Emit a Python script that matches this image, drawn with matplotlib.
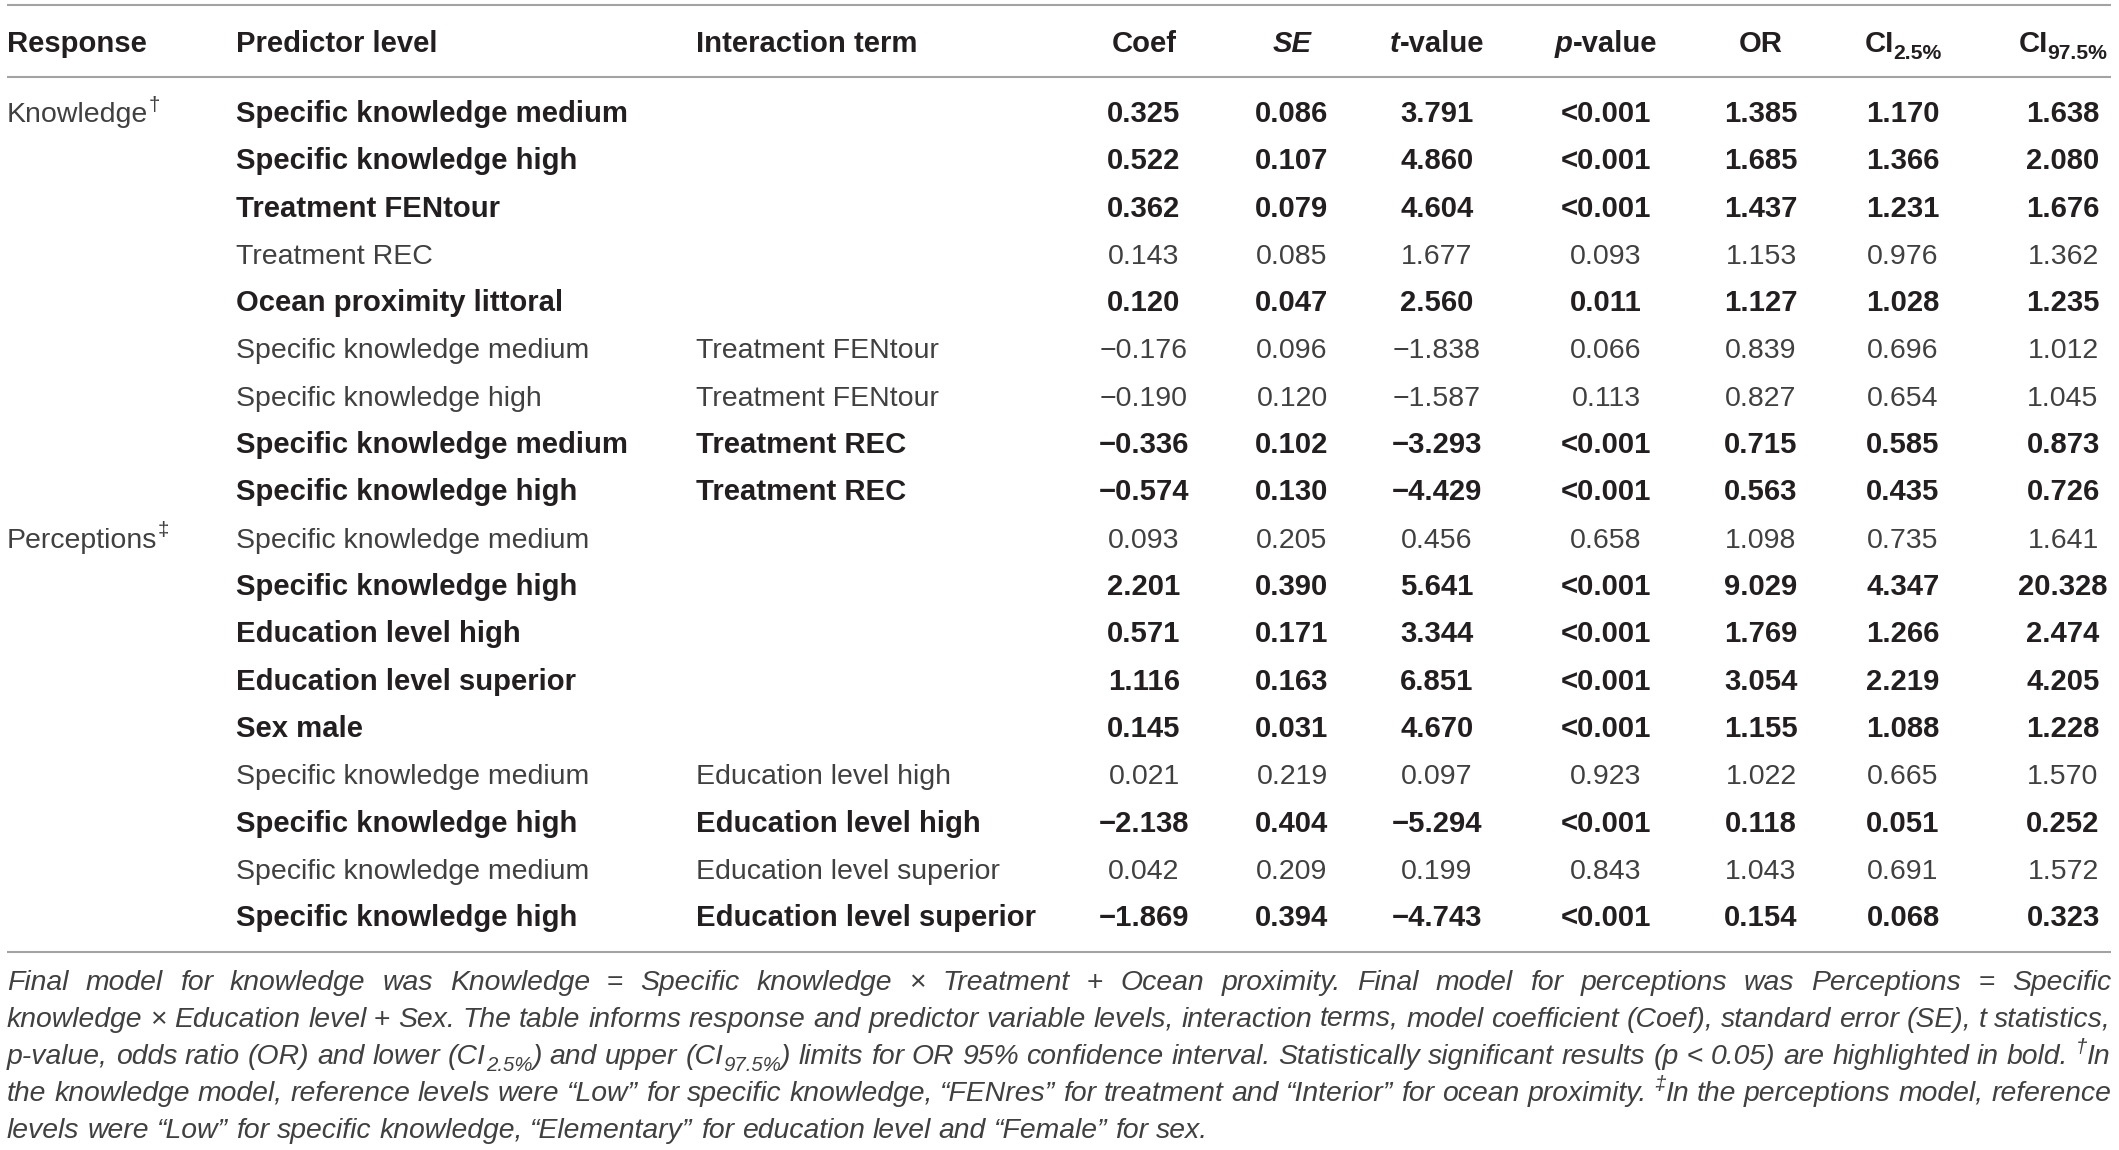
import re
import matplotlib.pyplot as plt

FONT = "Liberation Sans"
W, H = 2119, 1150

# table content
header = ["Response", "Predictor level", "Interaction term", "Coef", "*SE*", "*t*-value",
          "*p*-value", "OR", "CI_{2.5%}", "CI_{97.5%}"]

response = {0: "Knowledge^{†}", 9: "Perceptions^{‡}"}

predictor = ["Specific knowledge medium", "Specific knowledge high", "Treatment FENtour",
             "Treatment REC", "Ocean proximity littoral", "Specific knowledge medium",
             "Specific knowledge high", "Specific knowledge medium", "Specific knowledge high",
             "Specific knowledge medium", "Specific knowledge high", "Education level high",
             "Education level superior", "Sex male", "Specific knowledge medium",
             "Specific knowledge high", "Specific knowledge medium", "Specific knowledge high"]

interaction = ["", "", "", "", "", "Treatment FENtour", "Treatment FENtour", "Treatment REC",
               "Treatment REC", "", "", "", "", "", "Education level high", "Education level high",
               "Education level superior", "Education level superior"]

coef = [0.325, 0.522, 0.362, 0.143, 0.120, -0.176, -0.190, -0.336, -0.574,
        0.093, 2.201, 0.571, 1.116, 0.145, 0.021, -2.138, 0.042, -1.869]
se = [0.086, 0.107, 0.079, 0.085, 0.047, 0.096, 0.120, 0.102, 0.130,
      0.205, 0.390, 0.171, 0.163, 0.031, 0.219, 0.404, 0.209, 0.394]
tval = [3.791, 4.860, 4.604, 1.677, 2.560, -1.838, -1.587, -3.293, -4.429,
        0.456, 5.641, 3.344, 6.851, 4.670, 0.097, -5.294, 0.199, -4.743]
pval = ["<0.001", "<0.001", "<0.001", "0.093", "0.011", "0.066", "0.113", "<0.001", "<0.001",
        "0.658", "<0.001", "<0.001", "<0.001", "<0.001", "0.923", "<0.001", "0.843", "<0.001"]
odds = [1.385, 1.685, 1.437, 1.153, 1.127, 0.839, 0.827, 0.715, 0.563,
        1.098, 9.029, 1.769, 3.054, 1.155, 1.022, 0.118, 1.043, 0.154]
ci_lo = [1.170, 1.366, 1.231, 0.976, 1.028, 0.696, 0.654, 0.585, 0.435,
         0.735, 4.347, 1.266, 2.219, 1.088, 0.665, 0.051, 0.691, 0.068]
ci_hi = [1.638, 2.080, 1.676, 1.362, 1.235, 1.012, 1.045, 0.873, 0.726,
         1.641, 20.328, 2.474, 4.205, 1.228, 1.570, 0.252, 1.572, 0.323]

caption = [
    "Final model for knowledge was Knowledge = Specific knowledge × Treatment + Ocean proximity. Final model for perceptions was Perceptions = Specific",
    "knowledge × Education level + Sex. The table informs response and predictor variable levels, interaction terms, model coefficient (Coef), standard error (SE), t statistics,",
    "p-value, odds ratio (OR) and lower (CI_{2.5%}) and upper (CI_{97.5%}) limits for OR 95% confidence interval. Statistically significant results (p < 0.05) are highlighted in bold. ^{†}In",
    "the knowledge model, reference levels were “Low” for specific knowledge, “FENres” for treatment and “Interior” for ocean proximity. ^{‡}In the perceptions model, reference",
    "levels were “Low” for specific knowledge, “Elementary” for education level and “Female” for sex.",
]
UPRIGHT = {"=", "×", "+", "<"}

# layout (pixels)
left_x = [7, 236, 696]
num_x = [1144, 1292, 1437, 1606, 1761, 1903, 2063]
head_base = 52
row_base0, row_step = 122, 47.3
cap_base0, cap_step = 990, 37
x_left, x_right = 7, 2111
size_reg, size_bold, size_cap = 20.5, 21.1, 20.4
c_light, c_bold, c_line = "#404040", "#231f20", "#a3a3a3"

fig = plt.figure(figsize=(W / 100, H / 100), dpi=100)
ax = fig.add_axes([0, 0, 1, 1])
ax.set_xlim(0, W)
ax.set_ylim(H, 0)
ax.axis("off")
rend = fig.canvas.get_renderer()


def parse(s):
    out = []
    for p in re.split(r"(\*[^*]+\*|_\{[^}]+\}|\^\{[^}]+\})", s):
        if not p:
            continue
        if p.startswith("*"):
            out.append((p[1:-1], "i"))
        elif p.startswith("_{"):
            out.append((p[2:-1], "sub"))
        elif p.startswith("^{"):
            out.append((p[2:-1], "sup"))
        else:
            out.append((p, "n"))
    return out


def measure(text, props):
    t = ax.text(0, 0, text, **props)
    w = t.get_window_extent(renderer=rend).width
    t.remove()
    return w


def layout(s, size, weight, style, color):
    items = []
    for text, mode in parse(s):
        p = dict(fontsize=size, fontweight=weight, fontstyle=style, color=color, family=FONT)
        dy = 0
        if mode == "i":
            p["fontstyle"] = "italic"
        if mode in ("sub", "sup"):
            p["fontsize"] = size * 0.72
            dy = size * 100 / 72 * (0.25 if mode == "sub" else -0.40)
        items.append((text, p, dy, measure(text, p)))
    return items


def draw(x, y, s, size, weight="normal", style="normal", color=c_light, ha="left"):
    items = layout(s, size, weight, style, color)
    total = sum(it[3] for it in items)
    x0 = x - total / 2 if ha == "center" else x
    for text, p, dy, w in items:
        ax.text(x0, y + dy, text, va="baseline", ha="left", **p)
        x0 += w
    return total


def fmt(v):
    return f"{v:.3f}".replace("-", "\u2212")


# rules
for y in (5, 77, 952):
    ax.plot([x_left, x_right], [y, y], color=c_line, lw=1.5, solid_capstyle="butt")

# header
for i, h in enumerate(header):
    if i < 3:
        draw(left_x[i], head_base, h, size_bold, "bold", color=c_bold)
    else:
        draw(num_x[i - 3], head_base, h, size_bold, "bold", color=c_bold, ha="center")

# body
for r in range(len(predictor)):
    yb = row_base0 + r * row_step
    sig = pval[r].startswith("<") or float(pval[r]) < 0.05
    wt = "bold" if sig else "normal"
    col = c_bold if sig else c_light
    sz = size_bold if sig else size_reg
    if r in response:
        draw(left_x[0], yb, response[r], size_reg, "normal", color=c_light)
    draw(left_x[1], yb, predictor[r], sz, wt, color=col)
    if interaction[r]:
        draw(left_x[2], yb, interaction[r], sz, wt, color=col)
    vals = [fmt(coef[r]), fmt(se[r]), fmt(tval[r]), pval[r], fmt(odds[r]), fmt(ci_lo[r]), fmt(ci_hi[r])]
    for x, v in zip(num_x, vals):
        draw(x, yb, v, sz, wt, color=col, ha="center")

# caption, justified
cp = dict(fontsize=size_cap, fontstyle="italic", family=FONT)
space_w = measure("a a", cp) - measure("aa", cp)
for k, line in enumerate(caption):
    yb = cap_base0 + k * cap_step
    words = []
    for wd in line.split(" "):
        st = "normal" if wd in UPRIGHT else "italic"
        its = layout(wd, size_cap, "normal", st, c_light)
        words.append((its, sum(it[3] for it in its)))
    tot = sum(w for _, w in words)
    if k == len(caption) - 1:
        gap = space_w
    else:
        gap = (x_right - x_left - tot) / (len(words) - 1)
    x = x_left
    for its, w in words:
        xx = x
        for text, p, dy, ww in its:
            ax.text(xx, yb + dy, text, va="baseline", ha="left", **p)
            xx += ww
        x += w + gap

fig.savefig("out.png", dpi=100, facecolor="white")
